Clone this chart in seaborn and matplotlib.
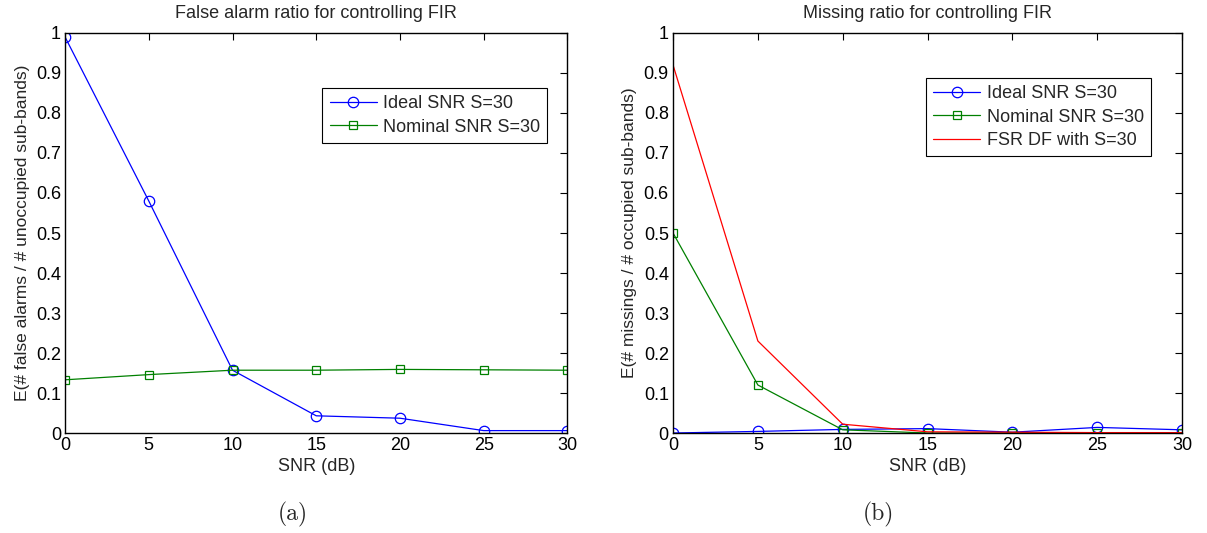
import numpy as np
import pandas as pd
import matplotlib
matplotlib.use("Agg")
import matplotlib.pyplot as plt
import seaborn as sns

snr_db = [0, 5, 10, 15, 20, 25, 30]

# False alarm ratio
fa_ideal = [0.99, 0.58, 0.157, 0.043, 0.037, 0.006, 0.006]
fa_nominal = [0.133, 0.146, 0.157, 0.157, 0.159, 0.158, 0.157]

# Missing ratio
miss_ideal = [0.0, 0.004, 0.009, 0.011, 0.002, 0.014, 0.008]
miss_nominal = [0.50, 0.12, 0.008, 0.0, 0.0, 0.0, 0.0]
miss_fsr = [0.92, 0.23, 0.022, 0.003, 0.002, 0.001, 0.001]

x_ticks = [0, 5, 10, 15, 20, 25, 30]
y_ticks = [0, 0.1, 0.2, 0.3, 0.4, 0.5, 0.6, 0.7, 0.8, 0.9, 1]
y_ticklabels = ["0", "0.1", "0.2", "0.3", "0.4", "0.5", "0.6", "0.7", "0.8", "0.9", "1"]

sns.set_style("white")
plt.rcParams["font.family"] = ["Liberation Sans", "DejaVu Sans"]

fig = plt.figure(figsize=(12.07, 5.33), dpi=100)
ax1 = fig.add_axes([0.0539, 0.1876, 0.4162, 0.7505])
ax2 = fig.add_axes([0.5576, 0.1876, 0.4218, 0.7505])

BLUE = "#0000ff"
GREEN = "#008000"
RED = "#ff0000"

def df_of(vals, name):
    return pd.DataFrame({"snr": snr_db, "val": vals, "series": name})

# Panel (a)
sns.lineplot(data=df_of(fa_ideal, "Ideal SNR S=30"), x="snr", y="val", ax=ax1,
             color=BLUE, marker="o", markersize=7.5, markerfacecolor="none",
             markeredgecolor=BLUE, markeredgewidth=0.9, linewidth=0.9,
             label="Ideal SNR S=30")
sns.lineplot(data=df_of(fa_nominal, "Nominal SNR S=30"), x="snr", y="val", ax=ax1,
             color=GREEN, marker="s", markersize=6, markerfacecolor="none",
             markeredgecolor=GREEN, markeredgewidth=0.9, linewidth=0.9,
             label="Nominal SNR S=30")

# Panel (b)
sns.lineplot(data=df_of(miss_ideal, "Ideal SNR S=30"), x="snr", y="val", ax=ax2,
             color=BLUE, marker="o", markersize=7.5, markerfacecolor="none",
             markeredgecolor=BLUE, markeredgewidth=0.9, linewidth=0.9,
             label="Ideal SNR S=30")
sns.lineplot(data=df_of(miss_nominal, "Nominal SNR S=30"), x="snr", y="val", ax=ax2,
             color=GREEN, marker="s", markersize=6, markerfacecolor="none",
             markeredgecolor=GREEN, markeredgewidth=0.9, linewidth=0.9,
             label="Nominal SNR S=30")
sns.lineplot(data=df_of(miss_fsr, "FSR DF with S=30"), x="snr", y="val", ax=ax2,
             color=RED, linewidth=0.9, label="FSR DF with S=30")

titles = ["False alarm ratio for controlling FIR", "Missing ratio for controlling FIR"]
ylabels = ["E(# false alarms / # unoccupied sub-bands)",
           "E(# missings / # occupied sub-bands)"]

for ax, title, ylab in zip([ax1, ax2], titles, ylabels):
    ax.set_xlim(0, 30)
    ax.set_ylim(0, 1)
    ax.set_xticks(x_ticks)
    ax.set_xticklabels([str(t) for t in x_ticks])
    ax.set_yticks(y_ticks)
    ax.set_yticklabels(y_ticklabels)
    ax.tick_params(direction="in", top=True, right=True, length=5, width=0.8,
                   labelsize=13, colors="black", pad=3)
    for s in ax.spines.values():
        s.set_visible(True)
        s.set_color("black")
        s.set_linewidth(1.0)
    ax.set_title(title, fontsize=13, pad=11)
    ax.set_xlabel("SNR (dB)", fontsize=13, labelpad=3)
    ax.set_ylabel(ylab, fontsize=12.5, labelpad=4.5)

legend_kw = dict(fontsize=13, frameon=True, fancybox=False, edgecolor="black",
                 framealpha=1, handlelength=2.6, borderpad=0.4, labelspacing=0.36,
                 handletextpad=0.35, borderaxespad=0)
leg1 = ax1.legend(loc="upper right", bbox_to_anchor=(0.960, 0.8625), **legend_kw)
leg1.get_frame().set_linewidth(0.8)
leg2 = ax2.legend(loc="upper right", bbox_to_anchor=(0.939, 0.8875), **legend_kw)
leg2.get_frame().set_linewidth(0.8)

fig.text(0.2425, 0.035, "(a)", fontsize=17, family="cmr10", ha="center", va="center")
fig.text(0.7275, 0.035, "(b)", fontsize=17, family="cmr10", ha="center", va="center")

fig.savefig("out.png", dpi=100, facecolor="white")
